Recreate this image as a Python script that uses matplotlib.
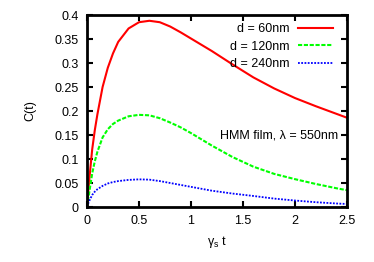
from matplotlib import pyplot as plt
from matplotlib.ticker import FuncFormatter, MultipleLocator

plt.rcParams['font.family'] = ['Liberation Sans', 'DejaVu Sans']
plt.rcParams['mathtext.fontset'] = 'custom'
plt.rcParams['mathtext.rm'] = 'Liberation Sans'
plt.rcParams['mathtext.default'] = 'regular'

# values
t = [0, 0.02, 0.05, 0.075, 0.1, 0.15, 0.2, 0.25, 0.3, 0.4, 0.5, 0.6, 0.7, 0.8,
     0.9, 1.0, 1.1, 1.2, 1.4, 1.6, 1.8, 2.0, 2.2, 2.4, 2.5]
c_60 = [0, 0.053, 0.12, 0.16, 0.193, 0.250, 0.290, 0.320, 0.344, 0.372,
        0.385, 0.388, 0.385, 0.376, 0.364, 0.351, 0.338, 0.325, 0.297, 0.270,
        0.247, 0.227, 0.210, 0.194, 0.186]
c_120 = [0, 0.028, 0.07, 0.095, 0.115, 0.145, 0.162, 0.173, 0.180, 0.189,
         0.192, 0.191, 0.185, 0.176, 0.166, 0.154, 0.141, 0.128, 0.104, 0.084,
         0.069, 0.058, 0.048, 0.039, 0.035]
c_240 = [0, 0.012, 0.025, 0.032, 0.037, 0.044, 0.049, 0.052, 0.054, 0.0565,
         0.0576, 0.057, 0.054, 0.050, 0.046, 0.042, 0.038, 0.034, 0.028,
         0.023, 0.0175, 0.0135, 0.010, 0.0073, 0.0063]
labels = ['d = 60nm', 'd = 120nm', 'd = 240nm']

fig = plt.figure(figsize=(3.74, 2.62), dpi=100)
ax = fig.add_axes([0.2326, 0.2099, 0.6952, 0.7328])

ax.plot(t, c_60, color='#ff0000', lw=1.5, label=labels[0])
ax.plot(t, c_120, color='#00ff00', lw=1.5, ls=(0, (2, 0.8)), label=labels[1])
ax.plot(t, c_240, color='#0000ff', lw=1.3, ls=(0, (1, 0.8)), label=labels[2])

ax.set_xlim(0, 2.5)
ax.set_ylim(0, 0.4)
ax.xaxis.set_major_locator(MultipleLocator(0.5))
ax.yaxis.set_major_locator(MultipleLocator(0.05))
fmt = FuncFormatter(lambda v, p: '%g' % round(v, 3))
ax.xaxis.set_major_formatter(fmt)
ax.yaxis.set_major_formatter(fmt)
ax.tick_params(direction='in', top=True, right=True, length=4, width=1.5,
               labelsize=9, pad=6, colors='black')
for spine in ax.spines.values():
    spine.set_linewidth(2)

ax.set_xlabel(r'$\gamma_s$ t', fontsize=9, labelpad=5)
ax.set_ylabel('C(t)', fontsize=9, labelpad=13)

ax.legend(loc='upper right', bbox_to_anchor=(0.946, 0.958), frameon=False,
          markerfirst=False, fontsize=9, handlelength=2.8, handletextpad=0.7,
          labelspacing=0.45, borderpad=0, borderaxespad=0)
ax.text(2.41, 0.15, 'HMM film, λ = 550nm', fontsize=9, ha='right', va='center')

fig.savefig('out.png', dpi=100)
